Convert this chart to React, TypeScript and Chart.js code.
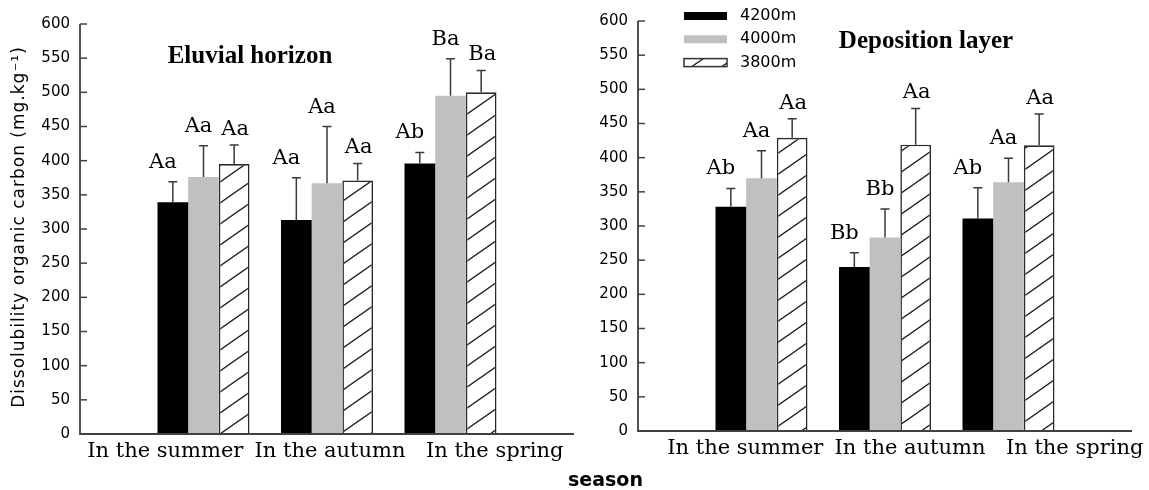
import React, { useEffect, useRef } from 'react';
import { Chart, registerables } from 'chart.js';

Chart.register(...registerables);

// ---------- data ----------
const seasons = ['In the summer', 'In the autumn', 'In the spring'];
const altitudes = ['4200m', '4000m', '3800m'];
const yMin = 0;
const yMax = 600;
const yStep = 50;

const eluvial4200 = [339, 313, 396];
const eluvial4000 = [376, 367, 495];
const eluvial3800 = [395, 371, 500];
const eluvial4200Err = [30, 62, 16];
const eluvial4000Err = [46, 83, 54];
const eluvial3800Err = [28, 25, 32];
const eluvial4200Sig = ['Aa', 'Aa', 'Ab'];
const eluvial4000Sig = ['Aa', 'Aa', 'Ba'];
const eluvial3800Sig = ['Aa', 'Aa', 'Ba'];

const deposit4200 = [328, 240, 311];
const deposit4000 = [370, 283, 364];
const deposit3800 = [429, 419, 418];
const deposit4200Err = [27, 21, 45];
const deposit4000Err = [40, 42, 35];
const deposit3800Err = [28, 53, 46];
const deposit4200Sig = ['Ab', 'Bb', 'Ab'];
const deposit4000Sig = ['Aa', 'Bb', 'Aa'];
const deposit3800Sig = ['Aa', 'Aa', 'Aa'];

const yAxisTitle = 'Dissolubility organic carbon (mg.kg\u207B\u00B9)';
const xAxisTitle = 'season';

// ---------- helpers ----------
const slotLabels = ['', ...seasons, ''];
const pad = (a: number[]) => [null, ...a, null];

function makeHatch(): CanvasPattern | string {
  const c = document.createElement('canvas');
  const w = 30;
  const h = 21;
  c.width = w;
  c.height = h;
  const g = c.getContext('2d');
  if (!g) return '#fff';
  g.fillStyle = '#ffffff';
  g.fillRect(0, 0, w, h);
  g.strokeStyle = '#1a1a1a';
  g.lineWidth = 1.4;
  for (const off of [-h, 0, h]) {
    g.beginPath();
    g.moveTo(-w, 2 * h + off);
    g.lineTo(2 * w, -h + off);
    g.stroke();
  }
  return g.createPattern(c, 'repeat') || '#fff';
}

type Panel = {
  series: number[][];
  errs: number[][];
  sigs: string[][];
  title: string;
  titleX: number;
  titleY: number;
  axisWidth: number;
  padRight: number;
  padTop: number;
  bottomH: number;
  labelOffset: number;
  yTitle: boolean;
  legend: boolean;
};

const sigDx = [-10, -5, 1];
const sigDy = [14, 14, 10];

function buildChart(canvas: HTMLCanvasElement, p: Panel) {
  const hatch = makeHatch();
  const fills: any[] = ['#000000', '#c0c0c0', hatch];
  const borders = ['#000000', '#c0c0c0', '#2a2a2a'];
  const bw = [0, 0, 1.6];

  const decor = {
    id: 'decor',
    afterDatasetsDraw(chart: any) {
      const ctx = chart.ctx as CanvasRenderingContext2D;
      const ys = chart.scales.y;
      const ca = chart.chartArea;
      ctx.save();
      // error bars + significance letters
      chart.data.datasets.forEach((ds: any, i: number) => {
        const meta = chart.getDatasetMeta(i);
        meta.data.forEach((el: any, j: number) => {
          const v = ds.data[j];
          if (v == null) return;
          const e = p.errs[i][j - 1];
          const top = ys.getPixelForValue(v + e);
          ctx.strokeStyle = '#3a3a3a';
          ctx.lineWidth = 1.5;
          ctx.beginPath();
          ctx.moveTo(el.x, el.y);
          ctx.lineTo(el.x, top);
          ctx.moveTo(el.x - 4.5, top);
          ctx.lineTo(el.x + 4.5, top);
          ctx.stroke();
          ctx.fillStyle = '#000';
          ctx.font = '21px "DejaVu Serif"';
          ctx.textAlign = 'center';
          ctx.textBaseline = 'alphabetic';
          ctx.fillText(p.sigs[i][j - 1], el.x + sigDx[i], top - sigDy[i]);
        });
      });
      // axes
      ctx.strokeStyle = '#404040';
      ctx.lineWidth = 1.8;
      ctx.beginPath();
      ctx.moveTo(ca.left, ys.getPixelForValue(yMax));
      ctx.lineTo(ca.left, ca.bottom);
      ctx.lineTo(ca.right, ca.bottom);
      ctx.stroke();
      ctx.lineWidth = 1.5;
      ys.ticks.forEach((t: any) => {
        const py = ys.getPixelForValue(t.value);
        ctx.beginPath();
        ctx.moveTo(ca.left, py);
        ctx.lineTo(ca.left + 7, py);
        ctx.stroke();
      });
      // panel title
      ctx.fillStyle = '#000';
      ctx.font = 'bold 25px "Liberation Serif"';
      ctx.textAlign = 'center';
      ctx.textBaseline = 'alphabetic';
      ctx.fillText(p.title, p.titleX, p.titleY);
      // y-axis title
      if (p.yTitle) {
        ctx.save();
        ctx.translate(20, 227);
        ctx.rotate(-Math.PI / 2);
        (ctx as any).letterSpacing = '1px';
        ctx.font = '17px "DejaVu Sans"';
        ctx.textAlign = 'center';
        ctx.textBaseline = 'middle';
        ctx.fillStyle = '#000';
        ctx.fillText(yAxisTitle, 0, 0);
        ctx.restore();
      }
      // legend
      if (p.legend) {
        altitudes.forEach((name, i) => {
          const cy = 16 + i * 23.3;
          const bx = 107;
          const bwid = 43;
          const bh = 8;
          ctx.fillStyle = fills[i];
          ctx.fillRect(bx, cy - bh / 2, bwid, bh);
          if (i === 2) {
            ctx.strokeStyle = '#333';
            ctx.lineWidth = 1.5;
            ctx.strokeRect(bx, cy - bh / 2, bwid, bh);
          }
          ctx.fillStyle = '#000';
          ctx.font = '16px "DejaVu Sans"';
          ctx.textAlign = 'left';
          ctx.textBaseline = 'middle';
          ctx.fillText(name, 163, cy);
        });
      }
      ctx.restore();
    },
  };

  return new Chart(canvas, {
    type: 'bar',
    data: {
      labels: slotLabels,
      datasets: p.series.map((s, i) => ({
        label: altitudes[i],
        data: pad(s),
        backgroundColor: fills[i],
        borderColor: borders[i],
        borderWidth: bw[i],
        barPercentage: 1,
        categoryPercentage: 0.745,
      })),
    },
    options: {
      animation: false,
      responsive: false,
      layout: { padding: { left: 0, right: p.padRight, top: p.padTop, bottom: 0 } },
      plugins: { legend: { display: false }, tooltip: { enabled: false }, title: { display: false } },
      scales: {
        x: { type: 'category', display: false, offset: false },
        xl: {
          type: 'category',
          position: 'bottom',
          labels: seasons,
          offset: true,
          grid: { display: false, drawTicks: false },
          border: { display: false },
          ticks: {
            font: { family: 'DejaVu Serif', size: 21 },
            color: '#000',
            padding: 5,
            labelOffset: p.labelOffset,
            maxRotation: 0,
            autoSkip: false,
          },
          afterFit: (s: any) => {
            s.height = p.bottomH;
          },
        },
        y: {
          min: yMin,
          max: yMax,
          grid: { display: false, drawTicks: false },
          border: { display: false },
          ticks: {
            stepSize: yStep,
            font: { family: 'DejaVu Sans', size: 15 },
            color: '#000',
            padding: 10,
          },
          afterFit: (s: any) => {
            s.width = p.axisWidth;
          },
        },
      },
    },
    plugins: [decor],
  } as any);
}

function PanelChart({ panel, left, width }: { panel: Panel; left: number; width: number }) {
  const ref = useRef<HTMLCanvasElement>(null);
  useEffect(() => {
    if (!ref.current) return;
    const ch = buildChart(ref.current, panel);
    return () => ch.destroy();
  }, []);
  return (
    <canvas
      ref={ref}
      width={width}
      height={490}
      style={{ position: 'absolute', left, top: 0, width, height: 490 }}
    />
  );
}

const leftPanel: Panel = {
  series: [eluvial4200, eluvial4000, eluvial3800],
  errs: [eluvial4200Err, eluvial4000Err, eluvial3800Err],
  sigs: [eluvial4200Sig, eluvial4000Sig, eluvial3800Sig],
  title: 'Eluvial horizon',
  titleX: 250,
  titleY: 63,
  axisWidth: 80,
  padRight: 3,
  padTop: 24,
  bottomH: 56,
  labelOffset: 3,
  yTitle: true,
  legend: false,
};

const rightPanel: Panel = {
  series: [deposit4200, deposit4000, deposit3800],
  errs: [deposit4200Err, deposit4000Err, deposit3800Err],
  sigs: [deposit4200Sig, deposit4000Sig, deposit3800Sig],
  title: 'Deposition layer',
  titleX: 349,
  titleY: 48,
  axisWidth: 61,
  padRight: 17,
  padTop: 21,
  bottomH: 59,
  labelOffset: 25,
  yTitle: false,
  legend: true,
};

export default function App() {
  return (
    <div style={{ position: 'fixed', left: 0, top: 0, width: 1149, height: 490, background: '#fff', overflow: 'hidden' }}>
      <PanelChart panel={leftPanel} left={0} width={577} />
      <PanelChart panel={rightPanel} left={577} width={572} />
      <div
        style={{
          position: 'absolute',
          left: 555,
          top: 469,
          width: 101,
          textAlign: 'center',
          font: 'bold 19px "DejaVu Sans"',
          lineHeight: '20px',
          color: '#000',
        }}
      >
        {xAxisTitle}
      </div>
    </div>
  );
}
